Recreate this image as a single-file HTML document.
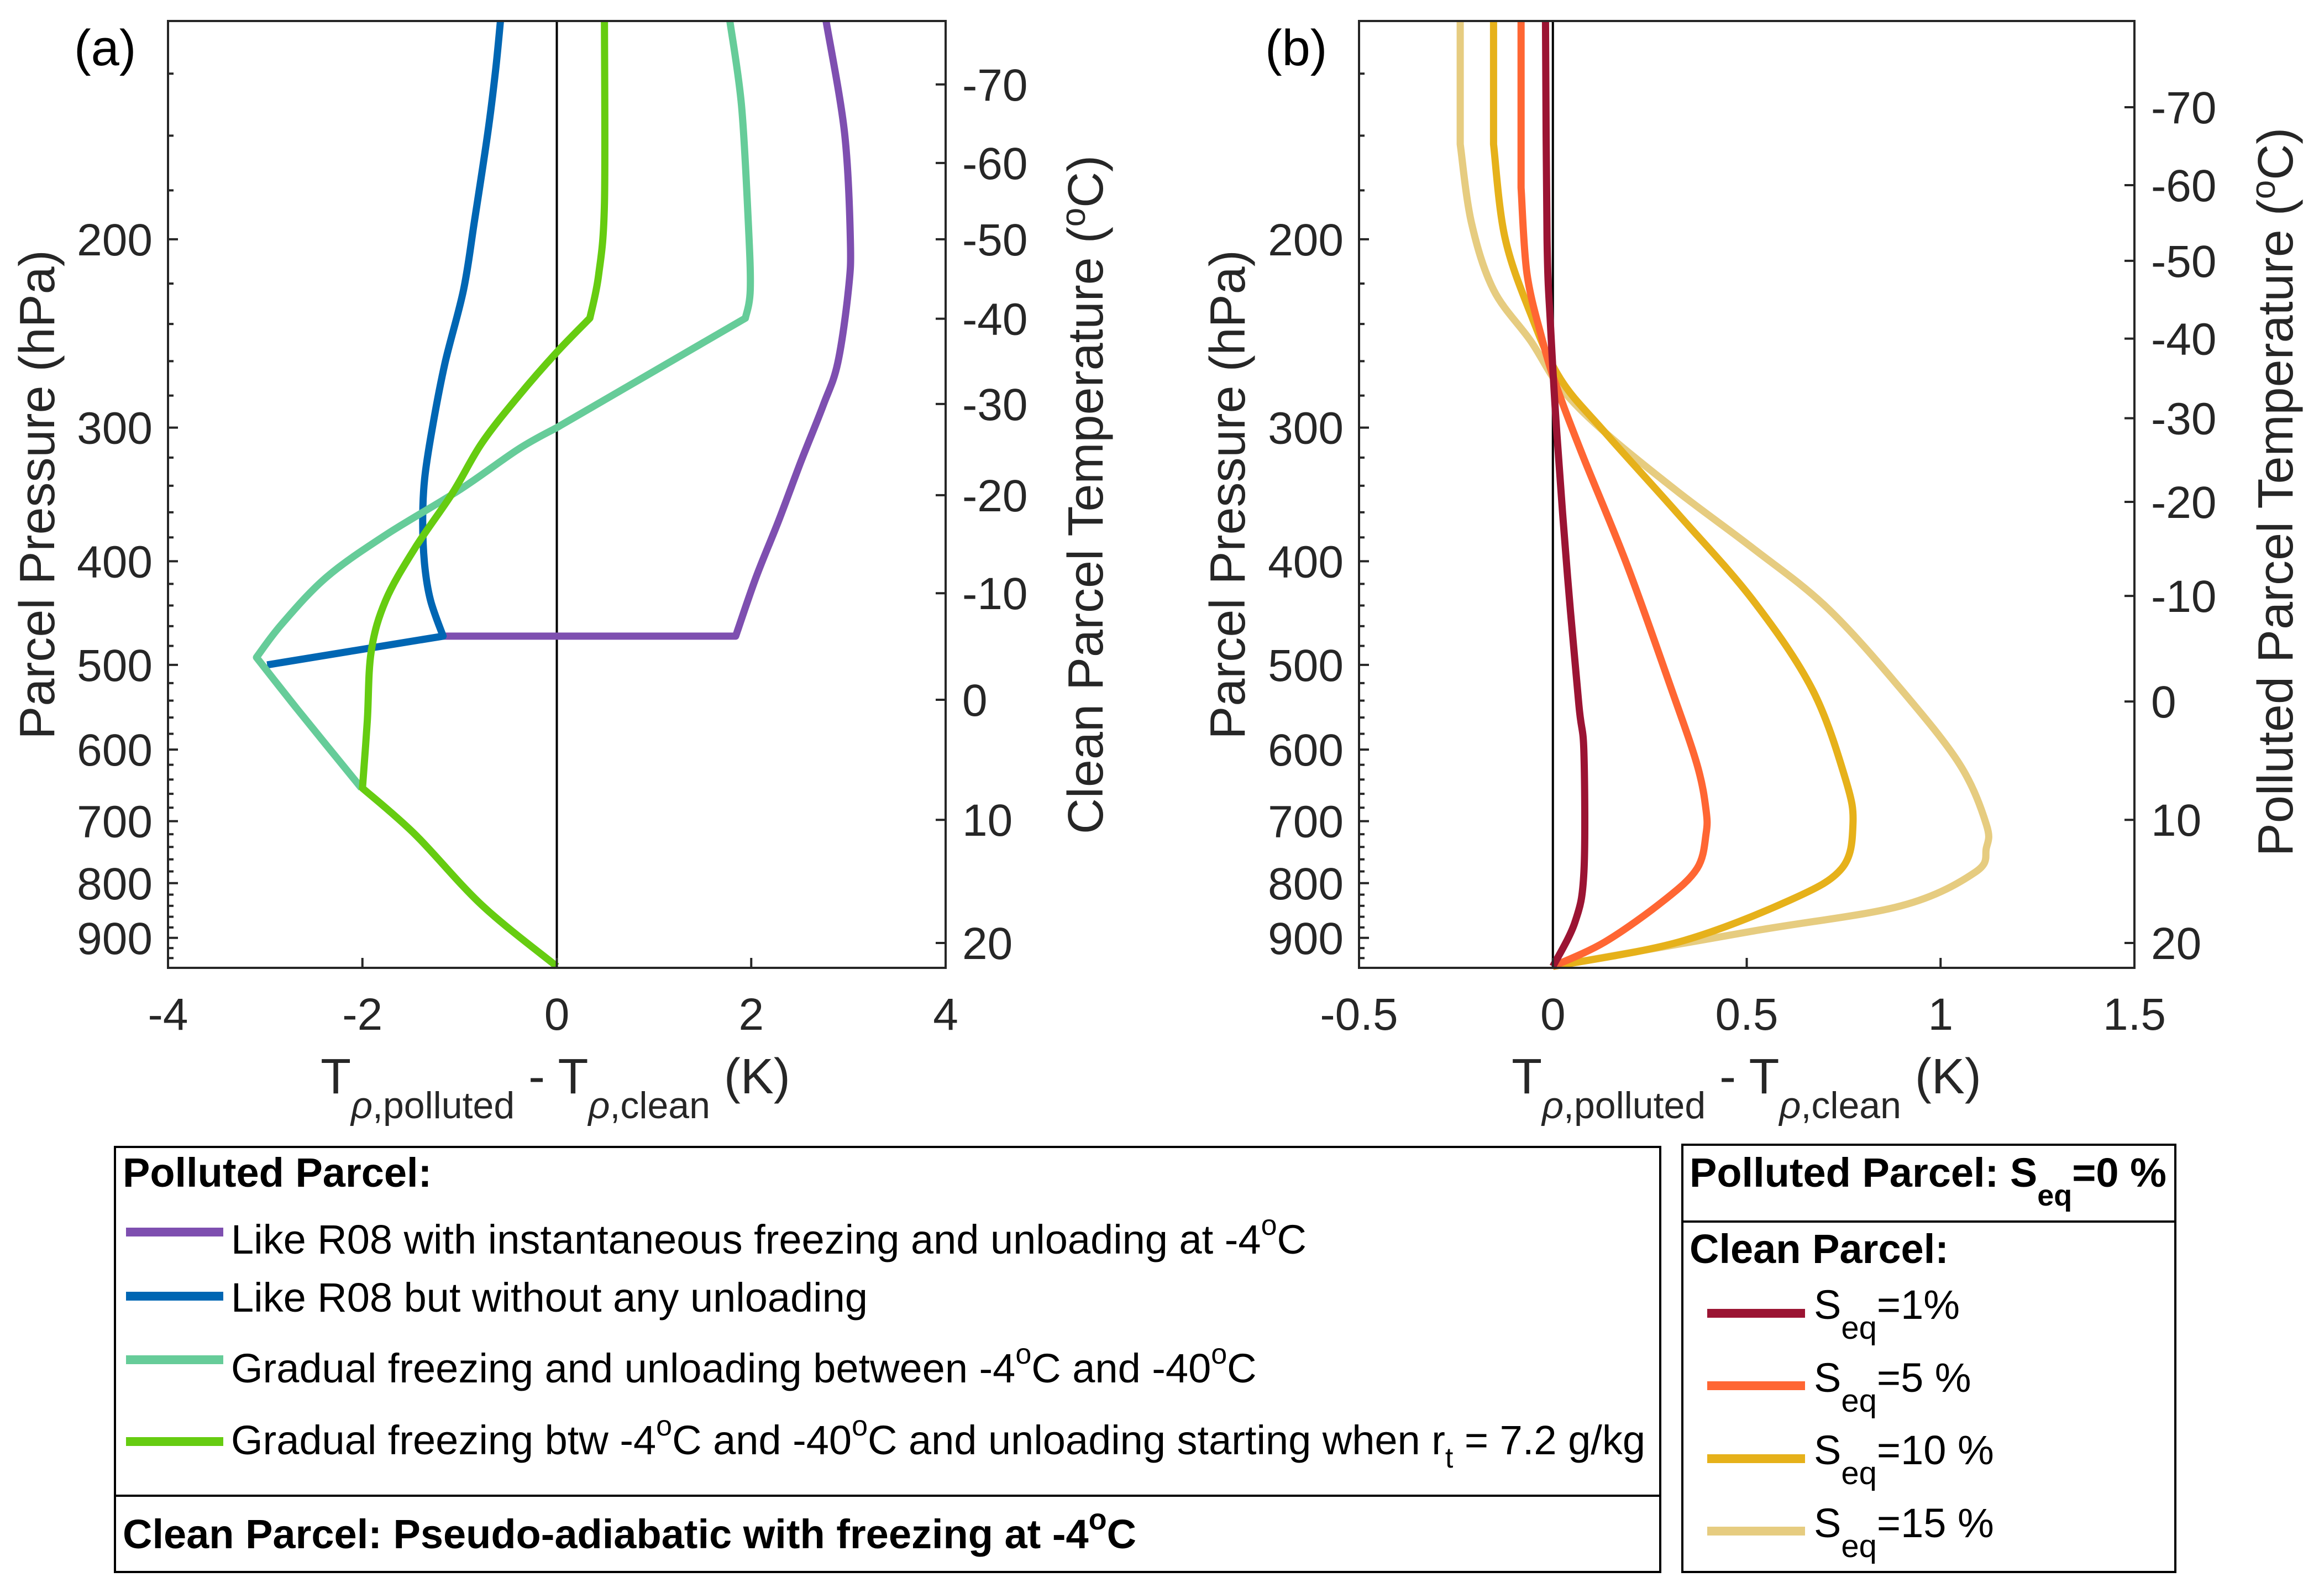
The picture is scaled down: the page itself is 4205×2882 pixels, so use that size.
<!DOCTYPE html>
<html><head><meta charset="utf-8"><style>
html,body{margin:0;padding:0;background:#fff;}
svg{display:block;font-family:"Liberation Sans",Arial,sans-serif;}
</style></head><body>
<svg id="fig" width="4205" height="2882" viewBox="0 0 4205 2882" xmlns="http://www.w3.org/2000/svg">
<g id="gA"></g>
<g id="gB"></g>
<g font-size="74">
  <rect x="208" y="2075" width="2796" height="769" fill="#fff" stroke="#000" stroke-width="4"/>
  <line x1="208" y1="2706" x2="3004" y2="2706" stroke="#000" stroke-width="4"/>
  <text x="222" y="2147" font-weight="bold" font-size="74">Polluted Parcel:</text>
  <line x1="228" y1="2229" x2="404" y2="2229" stroke="#7e4fb0" stroke-width="16"/>
  <text x="418" y="2268">Like R08 with instantaneous freezing and unloading at -4<tspan dy="-34" font-size="52">o</tspan><tspan dy="34">C</tspan></text>
  <line x1="228" y1="2345" x2="404" y2="2345" stroke="#0066b3" stroke-width="16"/>
  <text x="418" y="2373">Like R08 but without any unloading</text>
  <line x1="228" y1="2460" x2="404" y2="2460" stroke="#66cc99" stroke-width="16"/>
  <text x="418" y="2501">Gradual freezing and unloading between -4<tspan dy="-34" font-size="52">o</tspan><tspan dy="34">C and -40</tspan><tspan dy="-34" font-size="52">o</tspan><tspan dy="34">C</tspan></text>
  <line x1="228" y1="2608" x2="404" y2="2608" stroke="#66cc11" stroke-width="16"/>
  <text x="418" y="2631">Gradual freezing btw -4<tspan dy="-34" font-size="52">o</tspan><tspan dy="34">C and -40</tspan><tspan dy="-34" font-size="52">o</tspan><tspan dy="34">C and unloading starting when r</tspan><tspan dy="24" font-size="52">t</tspan><tspan dy="-24"> = 7.2 g/kg</tspan></text>
  <text x="222" y="2801" font-weight="bold" font-size="74">Clean Parcel: Pseudo-adiabatic with freezing at -4<tspan dy="-34" font-size="54">o</tspan><tspan dy="34">C</tspan></text>
</g>
<g font-size="74">
  <rect x="3044" y="2071" width="892" height="773" fill="#fff" stroke="#000" stroke-width="4"/>
  <line x1="3044" y1="2210" x2="3936" y2="2210" stroke="#000" stroke-width="4"/>
  <text x="3057" y="2147" font-weight="bold" font-size="74">Polluted Parcel: S<tspan dy="34" font-size="54">eq</tspan><tspan dy="-34">=0 %</tspan></text>
  <text x="3057" y="2285" font-weight="bold" font-size="74">Clean Parcel:</text>
  <line x1="3089" y1="2376" x2="3266" y2="2376" stroke="#9b1433" stroke-width="16"/>
  <text x="3282" y="2386">S<tspan dy="36" font-size="58">eq</tspan><tspan dy="-36">=1%</tspan></text>
  <line x1="3089" y1="2507" x2="3266" y2="2507" stroke="#ff6633" stroke-width="16"/>
  <text x="3282" y="2518">S<tspan dy="36" font-size="58">eq</tspan><tspan dy="-36">=5 %</tspan></text>
  <line x1="3089" y1="2639" x2="3266" y2="2639" stroke="#e6b11a" stroke-width="16"/>
  <text x="3282" y="2649">S<tspan dy="36" font-size="58">eq</tspan><tspan dy="-36">=10 %</tspan></text>
  <line x1="3089" y1="2770" x2="3266" y2="2770" stroke="#e6cc80" stroke-width="16"/>
  <text x="3282" y="2781">S<tspan dy="36" font-size="58">eq</tspan><tspan dy="-36">=15 %</tspan></text>
</g>
</svg>
<script>
// ---- data: panel a (x in K, p in hPa) ----
const purpleX=[2.77,2.96,3.02,3.0,2.89,2.74,2.51,2.28,2.05,1.84,-1.17];
const purpleP=[125,159,200,223,261,286,323,367,414,470,470];
const blueX=[-0.58,-0.63,-0.71,-0.85,-0.96,-1.15,-1.28,-1.36,-1.38,-1.36,-1.30,-1.17,-2.98];
const blueP=[125,139,159,193,223,261,300,335,367,403,435,470,500];
const tealX=[1.78,1.90,1.97,1.99,1.94,0,-0.39,-1.0,-1.76,-2.37,-2.83,-3.09,-2.67,-2.01];
const tealP=[125,150,193,223,237,300,314,343,378,414,458,492,550,652];
const greenX=[0.49,0.49,0.43,0.34,0,-0.39,-0.77,-1.07,-1.46,-1.76,-1.91,-1.95,-2.0,-1.46,-0.77,0];
const greenP=[125,185,216,237,255,280,310,345,389,435,486,565,652,720,839,957];
// ---- data: panel b ----
const s15X=[-0.239,-0.239,-0.21,-0.153,-0.057,0.019,0.134,0.325,0.516,0.707,0.898,1.05,1.118,1.118,1.09,0.898,0.516,0];
const s15P=[125,163,193,223,249,275,303,345,389,442,527,620,705,742,781,840,887,957];
const s10X=[-0.153,-0.153,-0.124,-0.057,0.019,0.134,0.325,0.516,0.669,0.755,0.774,0.745,0.611,0.325,0];
const s10P=[125,163,199,235,270,303,362,435,527,640,705,775,830,908,957];
const s5X=[-0.082,-0.082,-0.067,-0.029,0.01,0.076,0.191,0.306,0.372,0.395,0.395,0.372,0.287,0.134,0];
const s5P=[125,179,215,247,275,318,403,527,620,683,720,775,830,908,957];
const s1X=[-0.019,-0.015,-0.006,0.01,0.038,0.067,0.08,0.08,0.057,0];
const s1P=[125,200,241,303,414,545,604,781,870,957];
// ---- axes tick data ----
const pLabels=[200,300,400,500,600,700,800,900];
const xTicksA=[-4,-2,0,2,4];
const xTicksB=[-0.5,0,0.5,1,1.5];
const tempLabels=[-70,-60,-50,-40,-30,-20,-10,0,10,20];
const tempPA=[143.3,169.7,200,237.3,285.1,347,428.5,539,698,910];
const tempPB=[150.5,178,209.5,247.7,294,352,431,541,698,910];

const NS="http://www.w3.org/2000/svg";
const TOP=38,BOT=1751,PMIN=125,PMAX=960;
function yP(p){return TOP+(Math.log(p)-Math.log(PMIN))/(Math.log(PMAX)-Math.log(PMIN))*(BOT-TOP);}
function mk(parent,tag,attrs){const e=document.createElementNS(NS,tag);for(const k in attrs)e.setAttribute(k,attrs[k]);parent.appendChild(e);return e;}
function smoothPath(pts,corners){
  let d='M'+pts[0][0].toFixed(1)+','+pts[0][1].toFixed(1);
  const breaks=[0].concat(corners.filter(c=>c>0&&c<pts.length-1)).concat([pts.length-1]);
  for(let s=0;s<breaks.length-1;s++){
    const seg=pts.slice(breaks[s],breaks[s+1]+1);
    for(let i=0;i<seg.length-1;i++){
      const p0=seg[Math.max(i-1,0)],p1=seg[i],p2=seg[i+1],p3=seg[Math.min(i+2,seg.length-1)];
      const c1=[p1[0]+(p2[0]-p0[0])/6,p1[1]+(p2[1]-p0[1])/6];
      const c2=[p2[0]-(p3[0]-p1[0])/6,p2[1]-(p3[1]-p1[1])/6];
      d+=' C'+c1.map(v=>v.toFixed(1)).join(',')+' '+c2.map(v=>v.toFixed(1)).join(',')+' '+p2.map(v=>v.toFixed(1)).join(',');
    }
  }
  return d;
}

function panel(g,cfg){
  const xS=v=>cfg.L+(v-cfg.xmin)/(cfg.xmax-cfg.xmin)*(cfg.R-cfg.L);
  const z=mk(g,'line',{x1:xS(0),x2:xS(0),y1:TOP,y2:BOT,stroke:'#000','stroke-width':4});
  
  
  cfg.series.forEach(s=>{
    const pts=s.x.map((v,i)=>[xS(v),yP(s.p[i])]);
    const pl=mk(g,'path',{d:smoothPath(pts,s.k),fill:'none',stroke:s.c,'stroke-width':13,'stroke-linejoin':'round','stroke-linecap':'butt'});
    
    
  });
  const fr=mk(g,'rect',{x:cfg.L,y:TOP,width:cfg.R-cfg.L,height:BOT-TOP,fill:'none',stroke:'#262626','stroke-width':4});
  
  
  for(let p=140;p<=940;p+=20){
    const y=yP(p);const len=(p%100===0)?18:10;
    mk(g,'line',{x1:cfg.L,x2:cfg.L+len,y1:y,y2:y,stroke:'#262626','stroke-width':4});
  }
  pLabels.forEach(p=>{
    const t=mk(g,'text',{x:cfg.L-28,y:yP(p)+29,'font-size':82,'text-anchor':'end',fill:'#262626'});
    t.textContent=p;
    
    
  });
  cfg.tp.forEach((p,i)=>{
    const y=yP(p);
    mk(g,'line',{x1:cfg.R-18,x2:cfg.R,y1:y,y2:y,stroke:'#262626','stroke-width':4});
    const t=mk(g,'text',{x:cfg.R+30,y:y+29,'font-size':82,fill:'#262626'});
    t.textContent=tempLabels[i];
    
    
  });
  cfg.xt.forEach(v=>{
    const x=xS(v);
    mk(g,'line',{x1:x,x2:x,y1:BOT,y2:BOT-18,stroke:'#262626','stroke-width':4});
    const t=mk(g,'text',{x:x,y:1863,'font-size':82,'text-anchor':'middle',fill:'#262626'});
    t.textContent=v;
    
    
  });
  const xt=mk(g,'text',{x:cfg.xtc,y:1978,'font-size':90,'text-anchor':'middle',fill:'#262626'});
  xt.innerHTML='T<tspan dy="45" font-size="68" font-style="italic">ρ</tspan><tspan dy="0" font-size="68">,polluted</tspan><tspan dy="-45"> - T</tspan><tspan dy="45" font-size="68" font-style="italic">ρ</tspan><tspan font-size="68">,clean</tspan><tspan dy="-45"> (K)</tspan>';
  
  
  const yt=mk(g,'text',{x:0,y:0,'font-size':90,'text-anchor':'middle',fill:'#262626',transform:`translate(${cfg.ytx},895) rotate(-90)`});
  yt.textContent='Parcel Pressure (hPa)';
  
  
  const rt=mk(g,'text',{x:0,y:0,'font-size':90,'text-anchor':'middle',fill:'#262626',transform:`translate(${cfg.rtx},${cfg.rty}) rotate(-90)`});
  rt.innerHTML=cfg.rtitle+' (<tspan dy="-32" font-size="62">o</tspan><tspan dy="32">C)</tspan>';
  
  
  const lb=mk(g,'text',{x:cfg.L-170,y:118,'font-size':92,fill:'#000'});
  lb.textContent=cfg.label;
  
  
}

panel(document.getElementById('gA'),{L:304,R:1711,xmin:-4,xmax:4,xt:xTicksA,tp:tempPA,xtc:1005,ytx:98,rtx:1995,rty:895,
  rtitle:'Clean Parcel Temperature',label:'(a)',
  series:[{x:purpleX,p:purpleP,c:'#7e4fb0',n:'line-instant-freezing',k:[9]},
          {x:blueX,p:blueP,c:'#0066b3',n:'line-no-unloading',k:[11]},
          {x:tealX,p:tealP,c:'#66cc99',n:'line-gradual',k:[4,5,11]},
          {x:greenX,p:greenP,c:'#66cc11',n:'line-gradual-rt',k:[3,12]}]});
panel(document.getElementById('gB'),{L:2459,R:3862,xmin:-0.5,xmax:1.5,xt:xTicksB,tp:tempPB,xtc:3160,ytx:2252,rtx:4148,rty:890,
  rtitle:'Polluted Parcel Temperature',label:'(b)',
  series:[{x:s15X,p:s15P,c:'#e6cc80',n:'line-seq15',k:[1]},
          {x:s10X,p:s10P,c:'#e6b11a',n:'line-seq10',k:[1]},
          {x:s5X,p:s5P,c:'#ff6633',n:'line-seq5',k:[1]},
          {x:s1X,p:s1P,c:'#9b1433',n:'line-seq1',k:[]}]});
</script>
</body></html>
